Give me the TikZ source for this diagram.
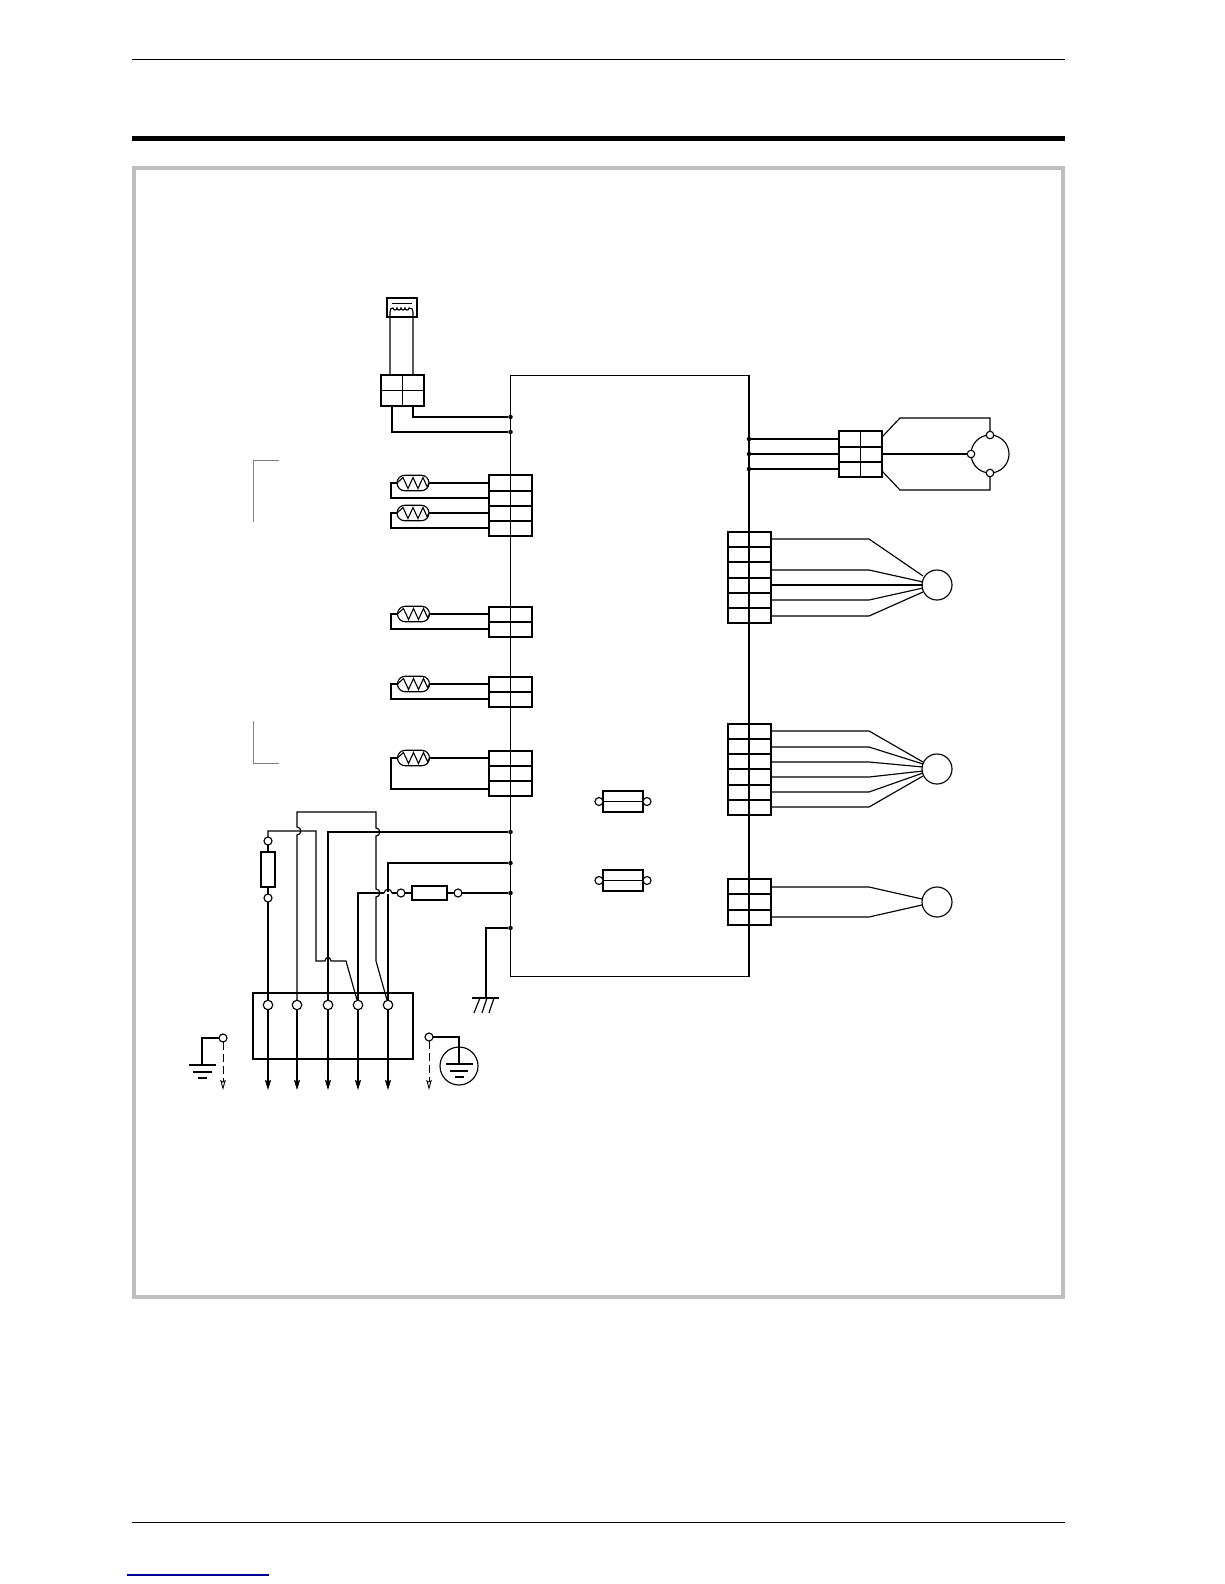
\documentclass[tikz,border=0pt]{standalone}
\usetikzlibrary{arrows.meta, shapes.misc}

\begin{document}
\begin{tikzpicture}[x=1pt,y=-1pt,line width=1.15pt,line join=miter]

\tikzset{block/.style = {shape=rectangle,draw,inner sep=0,outer sep=0,minimum width=43pt}}
\tikzset{dot/.style = {shape=circle,fill,inner sep=0,outer sep=0,minimum size=4.5pt}}
\tikzset{pad/.style = {shape=circle,draw,fill=white,inner sep=0,outer sep=0,minimum size=8pt}}
\tikzset{statorpin/.style = {shape=circle,draw,fill=white,inner sep=0,outer sep=0,minimum size=7.5pt}}
\tikzset{terminal/.style = {shape=circle,draw,fill=white,inner sep=0,outer sep=0,minimum size=9.5pt}}
\tikzset{motor/.style = {shape=circle,draw,inner sep=0,outer sep=0,minimum size=30pt}}
\tikzset{fuse/.style = {shape=rectangle,draw,inner sep=0,outer sep=0}}
\tikzset{therm/.style = {shape=rounded rectangle,draw,inner sep=0,outer sep=0,minimum width=32pt,minimum height=15.5pt}}
\tikzset{feed/.style = {-{Stealth[length=10pt,width=6pt,inset=1.5pt]},line width=1.3pt}}
\tikzset{tap/.style = {-{Stealth[open,length=10pt,width=5.5pt,inset=1.5pt]},line width=.9pt,dash pattern=on 8pt off 4pt}}
\tikzset{bracket/.style = {line width=.6pt,gray}}

\useasboundingbox (0,0) rectangle (1224,1584);

%page rules
\coordinate (h1) at (132,59.5);   \coordinate (h2) at (1065,59.5);
\coordinate (r1) at (132,138.5);  \coordinate (r2) at (1065,138.5);
\coordinate (f1) at (132,1522.5); \coordinate (f2) at (1065,1522.5);
\coordinate (l1) at (127,1575);   \coordinate (l2) at (269,1575);
\draw (h1) -- (h2);
\draw [line width=5pt] (r1) -- (r2);
\draw (f1) -- (f2);
\draw [line width=1.2pt,blue!60!black] (l1) -- (l2);
\node [draw=black!25,line width=4pt,inner sep=0,outer sep=0,minimum width=929pt,minimum height=1129pt] (panel) at (598.5,732.5) {};

%main board
\node [block,minimum width=238.5pt,minimum height=601pt] (board) at (629.75,675.8) {};

%board dots
\node [dot] (d1) at (510.5,417) {};
\node [dot] (d2) at (510.5,432) {};
\node [dot] (d3) at (749,439) {};
\node [dot] (d4) at (749,454) {};
\node [dot] (d5) at (749,469) {};
\node [dot] (d6) at (510.5,832) {};
\node [dot] (d7) at (510.5,863) {};
\node [dot] (d8) at (510.5,893) {};
\node [dot] (d9) at (510.5,928) {};

%transformer
\node [fuse,minimum width=30pt,minimum height=19pt] (trans) at (402,307.5) {};
\node [block,minimum height=31pt] (cT) at (402.5,390.5) {};
\draw (cT.north) -- (cT.south);
\draw (cT.west) -- (cT.east);
\draw [line width=.8pt] (392,303) -- (412,303);
\draw (390,375) -- (390,312) .. controls (390,309) and (391,308) .. (393,308)
  arc [start angle=180,end angle=0,radius=2] arc [start angle=180,end angle=0,radius=2]
  arc [start angle=180,end angle=0,radius=2] arc [start angle=180,end angle=0,radius=2]
  .. controls (412,308) and (413,309) .. (413,312) -- (413,375);
\draw (cT.south -| 413,0) |- (d1);
\draw (cT.south -| 392,0) |- (d2);

%sensor connectors
\node [block,minimum height=61pt] (cA) at (510.5,505.5) {};
\node [block,minimum height=30pt] (cB) at (510.5,622) {};
\node [block,minimum height=30pt] (cC) at (510.5,692) {};
\node [block,minimum height=45pt] (cD) at (510.5,773.5) {};
\foreach \y in {491,506,521} \draw (cA.west |- 0,\y) -- (cA.east |- 0,\y);
\draw (cB.west) -- (cB.east);
\draw (cC.west) -- (cC.east);
\foreach \y in {766,781} \draw (cD.west |- 0,\y) -- (cD.east |- 0,\y);

%thermistors
\node [therm] (th1) at (413,483) {};
\node [therm] (th2) at (413,513) {};
\node [therm] (th3) at (413.5,614) {};
\node [therm] (th4) at (413.5,684) {};
\node [therm] (th5) at (413.5,758) {};
\foreach \n in {th1,th2,th3,th4,th5}
  \draw [line width=1.1pt] (\n.west) -- ++(6,-5.5) -- ++(5,11) -- ++(5,-11) -- ++(5,11) -- ++(5,-11) -- ++(4,9) -- (\n.east);
\draw (th1.east) -- (cA.west |- th1);
\draw (th1.west) -- (391,483) |- (cA.west |- 0,498);
\draw (th2.east) -- (cA.west |- th2);
\draw (th2.west) -- (391,513) |- (cA.west |- 0,528);
\draw (th3.east) -- (cB.west |- th3);
\draw (th3.west) -- (391,614) |- (cB.west |- 0,629);
\draw (th4.east) -- (cC.west |- th4);
\draw (th4.west) -- (391,684) |- (cC.west |- 0,699);
\draw (th5.east) -- (cD.west |- th5);
\draw (th5.west) -- (391,758) |- (cD.west |- 0,789);

%brackets
\draw [bracket] (279,460) -- (253,460) -- (253,522);
\draw [bracket] (253,721) -- (253,763) -- (279,763);

%board fuses
\node [fuse,minimum width=40pt,minimum height=21pt] (fuA) at (623,801.5) {};
\node [fuse,minimum width=40pt,minimum height=21pt] (fuB) at (623,880.5) {};
\node [pad] (paA) at (599,801.5) {};
\node [pad] (pbA) at (647,801.5) {};
\node [pad] (paB) at (599,880.5) {};
\node [pad] (pbB) at (647,880.5) {};
\draw (paA) -- (pbA);
\draw (paB) -- (pbB);

%stepper with three pins
\node [block,minimum height=46pt] (cS) at (860.5,454) {};
\draw (cS.north) -- (cS.south);
\foreach \y in {447,462} \draw (cS.west |- 0,\y) -- (cS.east |- 0,\y);
\draw (d3) -- (cS.west |- d3);
\draw (d4) -- (cS.west |- d4);
\draw (d5) -- (cS.west |- d5);
\node [motor,minimum size=38pt] (mS) at (990,454) {};
\node [statorpin] (pS1) at (990,435) {};
\node [statorpin] (pS2) at (971,454) {};
\node [statorpin] (pS3) at (990,473) {};
\draw (882,437) -- (900,418) -| (pS1);
\draw (cS.east) -- (pS2);
\draw (882,471) -- (900,490) -| (pS3);

%fan connectors
\node [block,minimum height=91pt] (cE) at (749.5,577.5) {};
\foreach \y in {547,562,578,593,608} \draw (cE.west |- 0,\y) -- (cE.east |- 0,\y);
\node [motor] (mE) at (937,585) {};
\foreach \a/\b in {539/576,570/582,585/585,600/588,616/592}
  \draw (cE.east |- 0,\a) -- (869,\a) -- (923,\b);

\node [block,minimum height=91pt] (cF) at (749.5,769.5) {};
\foreach \y in {739,754,769,785,800} \draw (cF.west |- 0,\y) -- (cF.east |- 0,\y);
\node [motor] (mF) at (937,769) {};
\foreach \a/\b in {731/762,747/764,762/767,777/771,792/773,807/776}
  \draw (cF.east |- 0,\a) -- (869,\a) -- (923,\b);

\node [block,minimum height=46pt] (cG) at (749.5,902) {};
\foreach \y in {894,910} \draw (cG.west |- 0,\y) -- (cG.east |- 0,\y);
\node [motor] (mG) at (937,902) {};
\foreach \a/\b in {887/899,917/905}
  \draw (cG.east |- 0,\a) -- (869,\a) -- (922,\b);

%terminal block
\node [fuse,minimum width=160pt,minimum height=66pt] (tb) at (333,1026) {};
\node [terminal] (t1) at (268,1005) {};
\node [terminal] (t2) at (297,1005) {};
\node [terminal] (t3) at (328,1005) {};
\node [terminal] (t4) at (358,1005) {};
\node [terminal] (t5) at (388,1005) {};
\coordinate (a1) at (268,1090);
\coordinate (a2) at (297,1090);
\coordinate (a3) at (328,1090);
\coordinate (a4) at (358,1090);
\coordinate (a5) at (388,1090);
\foreach \i in {1,...,5} \draw [feed] (t\i) -- (a\i);

%input wiring
\node [fuse,minimum width=14pt,minimum height=35pt] (fuL) at (268,869.5) {};
\node [pad] (paL) at (268,841) {};
\node [pad] (pbL) at (268,898) {};
\node [fuse,minimum width=35pt,minimum height=14pt] (fuR) at (429.5,893) {};
\node [pad] (paR) at (401,893) {};
\node [pad] (pbR) at (458,893) {};
\draw (paL) -- (fuL.north);
\draw (fuL.south) -- (pbL);
\draw (pbL) -- (t1);
\draw (paR) -- (fuR.west);
\draw (fuR.east) -- (pbR);
\draw (pbR) -- (d8);
\draw (paL) -- (268,831) -- (316,831) -- (316,961) -- (325,961)
  .. controls (326,956) and (330,956) .. (331,961) -- (346,961) -- (357,1000);
\draw (t2) -- (297,835) .. controls (302,835) and (302,827) .. (297,827) -- (297,812) -- (376,812)
  -- (376,828) .. controls (381,828) and (381,836) .. (376,836)
  -- (376,889) .. controls (381,889) and (381,897) .. (376,897)
  -- (376,961) -- (387,1000);
\draw (t3) |- (d6);
\draw (t4) |- (paR);
\draw (t5) -- (388,863) -- (d7);
\draw [line width=1.8pt,white] (384,893) -- (392,893);
\draw (384,893) .. controls (385,888) and (391,888) .. (392,893);

%frame ground
\coordinate (gnd) at (486,998);
\draw (d9) -| (gnd);
\draw (472,998) -- (499,998);
\draw (480,998) -- (474,1013);
\draw (487,998) -- (482,1013);
\draw (494,998) -- (489,1013);

%earth at left
\node [pad] (eL) at (223,1038) {};
\coordinate (bL) at (202,1065);
\coordinate (tL) at (223,1090);
\draw (eL) -| (bL);
\draw (189,1065) -- (216,1065);
\draw (193,1072) -- (212,1072);
\draw (198,1078) -- (207,1078);
\draw [tap] (eL) -- (tL);

%earth at right
\node [pad] (eR) at (429,1037) {};
\coordinate (bR) at (459,1064);
\coordinate (tR) at (429,1090);
\node [shape=circle,draw,inner sep=0,minimum size=38pt] (eC) at (459,1066) {};
\draw (eR) -| (bR);
\draw (446,1064) -- (473,1064);
\draw (450,1071) -- (468,1071);
\draw (455,1077) -- (464,1077);
\draw [tap] (eR) -- (tR);

\end{tikzpicture}
\end{document}
